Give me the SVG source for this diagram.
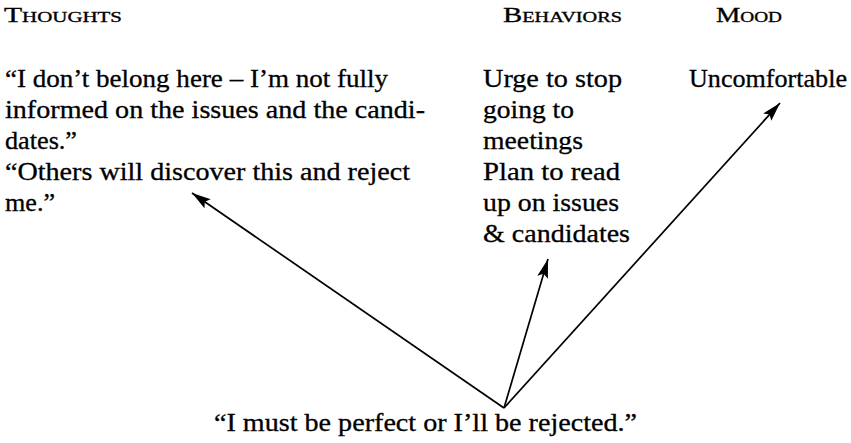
<svg xmlns="http://www.w3.org/2000/svg" width="851" height="443" viewBox="0 0 851 443">
  <style>
    text { font-family: "Liberation Serif", "Times New Roman", serif; fill: #000; }
    .body { font-size: 25px; stroke: #000; stroke-width: 0.3px; }
    .head { font-size: 22px; stroke: #000; stroke-width: 0.35px; }
    .sc { font-size: 15.5px; }
    .link { fill: none; stroke: #000; stroke-width: 1.7; marker-end: url(#arrow); }
  </style>
  <defs>
    <marker id="arrow" markerUnits="userSpaceOnUse" markerWidth="22" markerHeight="12" refX="19" refY="5.5" orient="auto">
      <path d="M0,0 L19,5.5 L0,11 L3.5,5.5 z" fill="#000"/>
    </marker>
  </defs>

  <!-- column headings -->
  <g id="heading-thoughts">
    <text class="head" x="4" y="22" textLength="118" lengthAdjust="spacingAndGlyphs">T<tspan class="sc">HOUGHTS</tspan></text>
  </g>
  <g id="heading-behaviors">
    <text class="head" x="503" y="22" textLength="119" lengthAdjust="spacingAndGlyphs">B<tspan class="sc">EHAVIORS</tspan></text>
  </g>
  <g id="heading-mood">
    <text class="head" x="716" y="22" textLength="66" lengthAdjust="spacingAndGlyphs">M<tspan class="sc">OOD</tspan></text>
  </g>

  <!-- thoughts column -->
  <g id="thoughts" class="body">
    <text x="5" y="87" textLength="383" lengthAdjust="spacingAndGlyphs">“I don’t belong here – I’m not fully</text>
    <text x="5" y="118" textLength="420" lengthAdjust="spacingAndGlyphs">informed on the issues and the candi-</text>
    <text x="5" y="149" textLength="72" lengthAdjust="spacingAndGlyphs">dates.”</text>
    <text x="5" y="180" textLength="405" lengthAdjust="spacingAndGlyphs">“Others will discover this and reject</text>
    <text x="5" y="211" textLength="50" lengthAdjust="spacingAndGlyphs">me.”</text>
  </g>

  <!-- behaviors column -->
  <g id="behaviors" class="body">
    <text x="483" y="87" textLength="139" lengthAdjust="spacingAndGlyphs">Urge to stop</text>
    <text x="483" y="118" textLength="91" lengthAdjust="spacingAndGlyphs">going to</text>
    <text x="483" y="149" textLength="100" lengthAdjust="spacingAndGlyphs">meetings</text>
    <text x="483" y="180" textLength="137" lengthAdjust="spacingAndGlyphs">Plan to read</text>
    <text x="483" y="211" textLength="136" lengthAdjust="spacingAndGlyphs">up on issues</text>
    <text x="483" y="242" textLength="147" lengthAdjust="spacingAndGlyphs">&amp; candidates</text>
  </g>

  <!-- mood column -->
  <g id="mood" class="body">
    <text x="689" y="87" textLength="158" lengthAdjust="spacingAndGlyphs">Uncomfortable</text>
  </g>

  <!-- underlying belief -->
  <g id="belief" class="body">
    <text x="214" y="431" textLength="423" lengthAdjust="spacingAndGlyphs">“I must be perfect or I’ll be rejected.”</text>
  </g>

  <!-- connectors from the belief up to each column -->
  <g id="connectors">
    <line class="link" x1="504" y1="408" x2="192" y2="193"/>
    <line class="link" x1="504" y1="408" x2="548" y2="259"/>
    <line class="link" x1="504" y1="408" x2="780" y2="103"/>
  </g>
</svg>
